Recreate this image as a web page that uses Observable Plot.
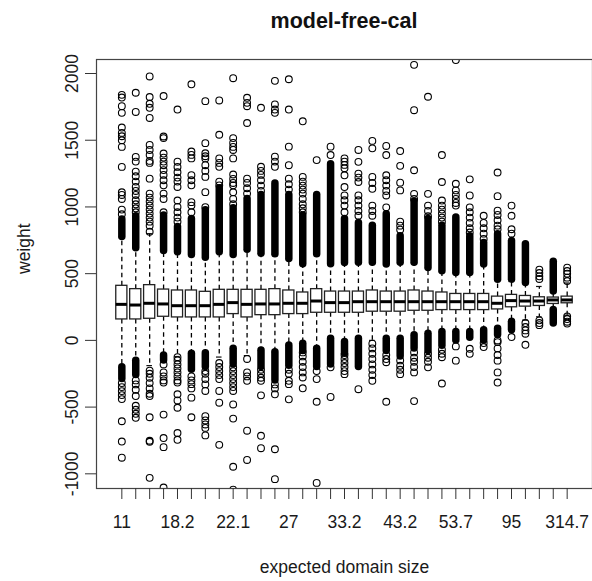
<!DOCTYPE html>
<html><head><meta charset="utf-8">
<script src="https://cdn.jsdelivr.net/npm/d3@7"></script>
<script src="https://cdn.jsdelivr.net/npm/@observablehq/plot@0.6"></script>
<style>
body{margin:0;background:#fff;font-family:"Liberation Sans",Arial,sans-serif;}
#title{height:42px;line-height:42px;font-size:21.5px;font-weight:bold;text-align:center;padding-left:96px;width:496px;color:#111;}
</style></head><body>
<div id="title"></div>
<div id="chart"></div>
<script>
const title = "model-free-cal";
const xLabel = "expected domain size";
const yLabel = "weight";
const groups = ["11","13.5","15.4","16.9","18.2","19.2","20.2","21.1","22.1","23.2","24.4","25.6","27","28.4","29.9","31.5","33.2","35.4","37.8","40.4","43.2","45.6","48.1","50.8","53.7","59.2","66.8","78.3","95","121.6","157.9","210.4","314.7"];
const q1  = [157,157,162,177,172,172,172,172,197,172,189,189,197,197,207,207,207,207,215,215,215,222,222,227,227,227,227,232,248,253,258,273,278];
const med = [270,265,278,273,260,260,260,270,283,270,273,273,278,278,295,283,283,290,290,290,290,290,290,290,290,290,290,278,298,295,295,303,303];
const q3  = [409,384,414,381,374,374,364,379,379,379,379,384,374,359,384,366,366,366,374,366,366,374,366,359,348,348,348,328,341,333,323,321,328];
const whiskerLo = [-202,-152,-189,-114,-121,-101,-96,-125,-63,-114,-76,-88,-38,-25,-63,13,-13,13,0,13,13,38,50,63,63,63,76,88,139,152,177,227,189];
const whiskerHi = [775,690,800,670,660,640,620,660,640,680,650,645,610,570,645,570,580,581,581,568,581,581,543,518,505,505,568,455,455,430,404,366,430];
// extent of the densely packed (solid) outlier runs just beyond the whiskers
const denseHi = [905,930,null,935,850,910,975,1140,990,1060,1090,1175,1090,935,1090,1320,910,880,860,945,780,1040,910,860,920,780,730,795,745,720,null,590,null];
const denseLo = [-290,-260,null,-150,null,-220,-200,null,-180,null,-200,-300,-190,-80,-200,-180,-100,-200,null,-80,-120,-60,-80,-40,0,20,0,40,76,null,null,126,null];
const outliersHi = [
  [945,980,1060,1090,1110,1300,1450,1500,1530,1555,1595,1705,1755,1820,1840],
  [960,990,1020,1050,1090,1120,1150,1190,1230,1265,1340,1375,1712,1856],
  [814,860,890,920,950,980,1010,1040,1070,1100,1212,1330,1345,1390,1427,1465,1667,1743,1773,1824,1978],
  [960,1060,1100,1162,1200,1240,1276,1313,1340,1370,1400,1516,1528,1831],
  [890,920,960,1000,1048,1150,1190,1220,1260,1300,1339,1730],
  [960,1010,1036,1162,1200,1238,1364,1390,1415,1919],
  [998,1111,1225,1270,1313,1364,1380,1402,1478,1793],
  [1162,1190,1301,1330,1364,1541,1798],
  [1020,1060,1110,1162,1180,1210,1243,1364,1427,1450,1480,1516,1965],
  [1100,1140,1180,1212,1629,1755,1780,1818],
  [1120,1160,1200,1240,1270,1301,1743],
  [1301,1340,1377,1705,1730,1768,1945],
  [1130,1170,1212,1313,1452,1730,1957],
  [960,990,1020,1060,1100,1130,1160,1190,1225,1642],
  [1351],
  [1389,1452],
  [960,1010,1050,1086,1149,1237,1290,1315,1340,1364],
  [934,970,1010,1050,1086,1187,1220,1250,1338,1427],
  [934,970,1010,1136,1180,1225,1439,1495],
  [997,1086,1120,1160,1200,1237,1389,1457],
  [830,860,890,1124,1182,1308,1419],
  [1060,1098,1275,1725,2065],
  [930,970,1010,1098,1826],
  [890,920,950,980,1010,1048,1187,1389],
  [1010,1030,1060,1090,1124,1174,2101],
  [808,840,880,920,960,997,1086,1207],
  [760,800,840,880,934],
  [833,860,900,940,972,1081,1258],
  [800,833,934,1010],
  [],
  [460,480,505,530],
  [],
  [445,470,500,520,545]
];
const outliersLo = [
  [-320,-350,-380,-410,-440,-606,-758,-879],
  [-300,-330,-370,-417,-490,-520,-550,-580],
  [-227,-250,-280,-320,-360,-400,-417,-576,-752,-760,-1030],
  [-180,-240,-270,-300,-316,-556,-732,-800,-1103],
  [-126,-150,-180,-210,-240,-270,-300,-316,-404,-450,-505,-694,-745],
  [-270,-300,-328,-360,-429,-576],
  [-230,-250,-290,-330,-379,-568,-600,-630,-656,-712],
  [-170,-200,-230,-260,-290,-379,-467,-783],
  [-202,-230,-260,-290,-320,-350,-379,-480,-586,-947,-1119],
  [-139,-240,-270,-303,-677,-896],
  [-220,-250,-280,-303,-412,-715,-808],
  [-330,-360,-404,-816,-1040],
  [-220,-250,-303,-328,-442],
  [-90,-120,-160,-200,-240,-278,-359],
  [-230,-290,-460,-1068],
  [-202,-424],
  [-110,-140,-170,-200,-230,-253],
  [-366],
  [-25,-60,-100,-140,-180,-220,-260,-303],
  [-110,-140,-164,-460],
  [-150,-190,-220,-253],
  [-90,-130,-160,-200,-240,-455],
  [-100,-130,-160,-202],
  [-70,-100,-126,-323],
  [-45,-152],
  [-63,-101],
  [-20,-50],
  [0,-13,-60,-110,-152,-240,-316],
  [25],
  [130,100,75,50,-33],
  [150,130,114],
  [],
  [180,160,140,126]
];
const yTicks = [-1000,-500,0,500,1000,1500,2000];
const labelEvery = 4;

document.getElementById("title").textContent = title;

const boxes = groups.map((g, k) => ({
  i: k + 1, g, q1: q1[k], med: med[k], q3: q3[k],
  wLo: whiskerLo[k], wHi: whiskerHi[k], dHi: denseHi[k], dLo: denseLo[k]
}));
const outliers = [];
groups.forEach((g, k) => {
  outliersHi[k].forEach(v => outliers.push({i: k + 1, v}));
  outliersLo[k].forEach(v => outliers.push({i: k + 1, v}));
});
const n = groups.length;
const ext = 0.04 * n;
const font = "'Liberation Sans', Arial, sans-serif";
const half = 0.4, staple = 0.2;

const chart = Plot.plot({
  width: 592,
  height: 539,
  marginTop: 17,
  marginBottom: 93,
  marginLeft: 96,
  marginRight: 0,
  style: {fontFamily: font, fontSize: "17.5px", background: "white", color: "#1a1a1a"},
  x: {domain: [0.5 - ext, n + 0.5 + ext], axis: null, label: null},
  y: {domain: [-1110, 2105], axis: null, label: null},
  marks: [
    Plot.ruleX(boxes, {x: "i", y1: "q3", y2: "wHi", stroke: "#000", strokeWidth: 1.3, strokeDasharray: "4.5,3.5"}),
    Plot.ruleX(boxes, {x: "i", y1: "q1", y2: "wLo", stroke: "#000", strokeWidth: 1.3, strokeDasharray: "4.5,3.5"}),
    Plot.ruleY(boxes, {y: "wHi", x1: d => d.i - staple, x2: d => d.i + staple, stroke: "#111", strokeWidth: 1.2}),
    Plot.ruleY(boxes, {y: "wLo", x1: d => d.i - staple, x2: d => d.i + staple, stroke: "#111", strokeWidth: 1.2}),
    Plot.rect(boxes, {x1: d => d.i - half, x2: d => d.i + half, y1: "q1", y2: "q3", fill: "white", stroke: "#222", strokeWidth: 1.3}),
    Plot.ruleY(boxes, {y: "med", x1: d => d.i - half, x2: d => d.i + half, stroke: "#000", strokeWidth: 3}),
    Plot.ruleX(boxes.filter(d => d.dHi != null), {x: "i", y1: "wHi", y2: "dHi", stroke: "#000", strokeWidth: 7.5, strokeLinecap: "round"}),
    Plot.ruleX(boxes.filter(d => d.dLo != null), {x: "i", y1: "wLo", y2: "dLo", stroke: "#000", strokeWidth: 7.5, strokeLinecap: "round"}),
    Plot.dot(outliers, {x: "i", y: "v", r: 3.4, stroke: "#000", strokeWidth: 1.1, fill: "none", clip: true}),
    Plot.frame({stroke: "#444", strokeWidth: 1.2}),
    Plot.axisY(yTicks, {tickSize: 11, tickFormat: () => "", label: null, stroke: "#333"}),
    Plot.text(yTicks, {y: d => d, text: d => String(d), frameAnchor: "left", dx: -24, rotate: -90, textAnchor: "middle", lineAnchor: "middle", fontSize: 17.5, fill: "#1a1a1a"}),
    Plot.axisX(d3.range(1, n + 1), {tickSize: 11, tickPadding: 16, tickFormat: i => ((i - 1) % labelEvery === 0 ? groups[i - 1] : ""), label: null, fontSize: 17.5, stroke: "#333", fill: "#1a1a1a"}),
    Plot.text([xLabel], {frameAnchor: "bottom", dy: 79, text: d => d, fontSize: 17.5, fill: "#1a1a1a", lineAnchor: "middle"}),
    Plot.text([yLabel], {frameAnchor: "left", dx: -72, rotate: -90, text: d => d, fontSize: 17.5, fill: "#1a1a1a", lineAnchor: "middle"})
  ]
});
document.getElementById("chart").appendChild(chart);
</script>
</body></html>
